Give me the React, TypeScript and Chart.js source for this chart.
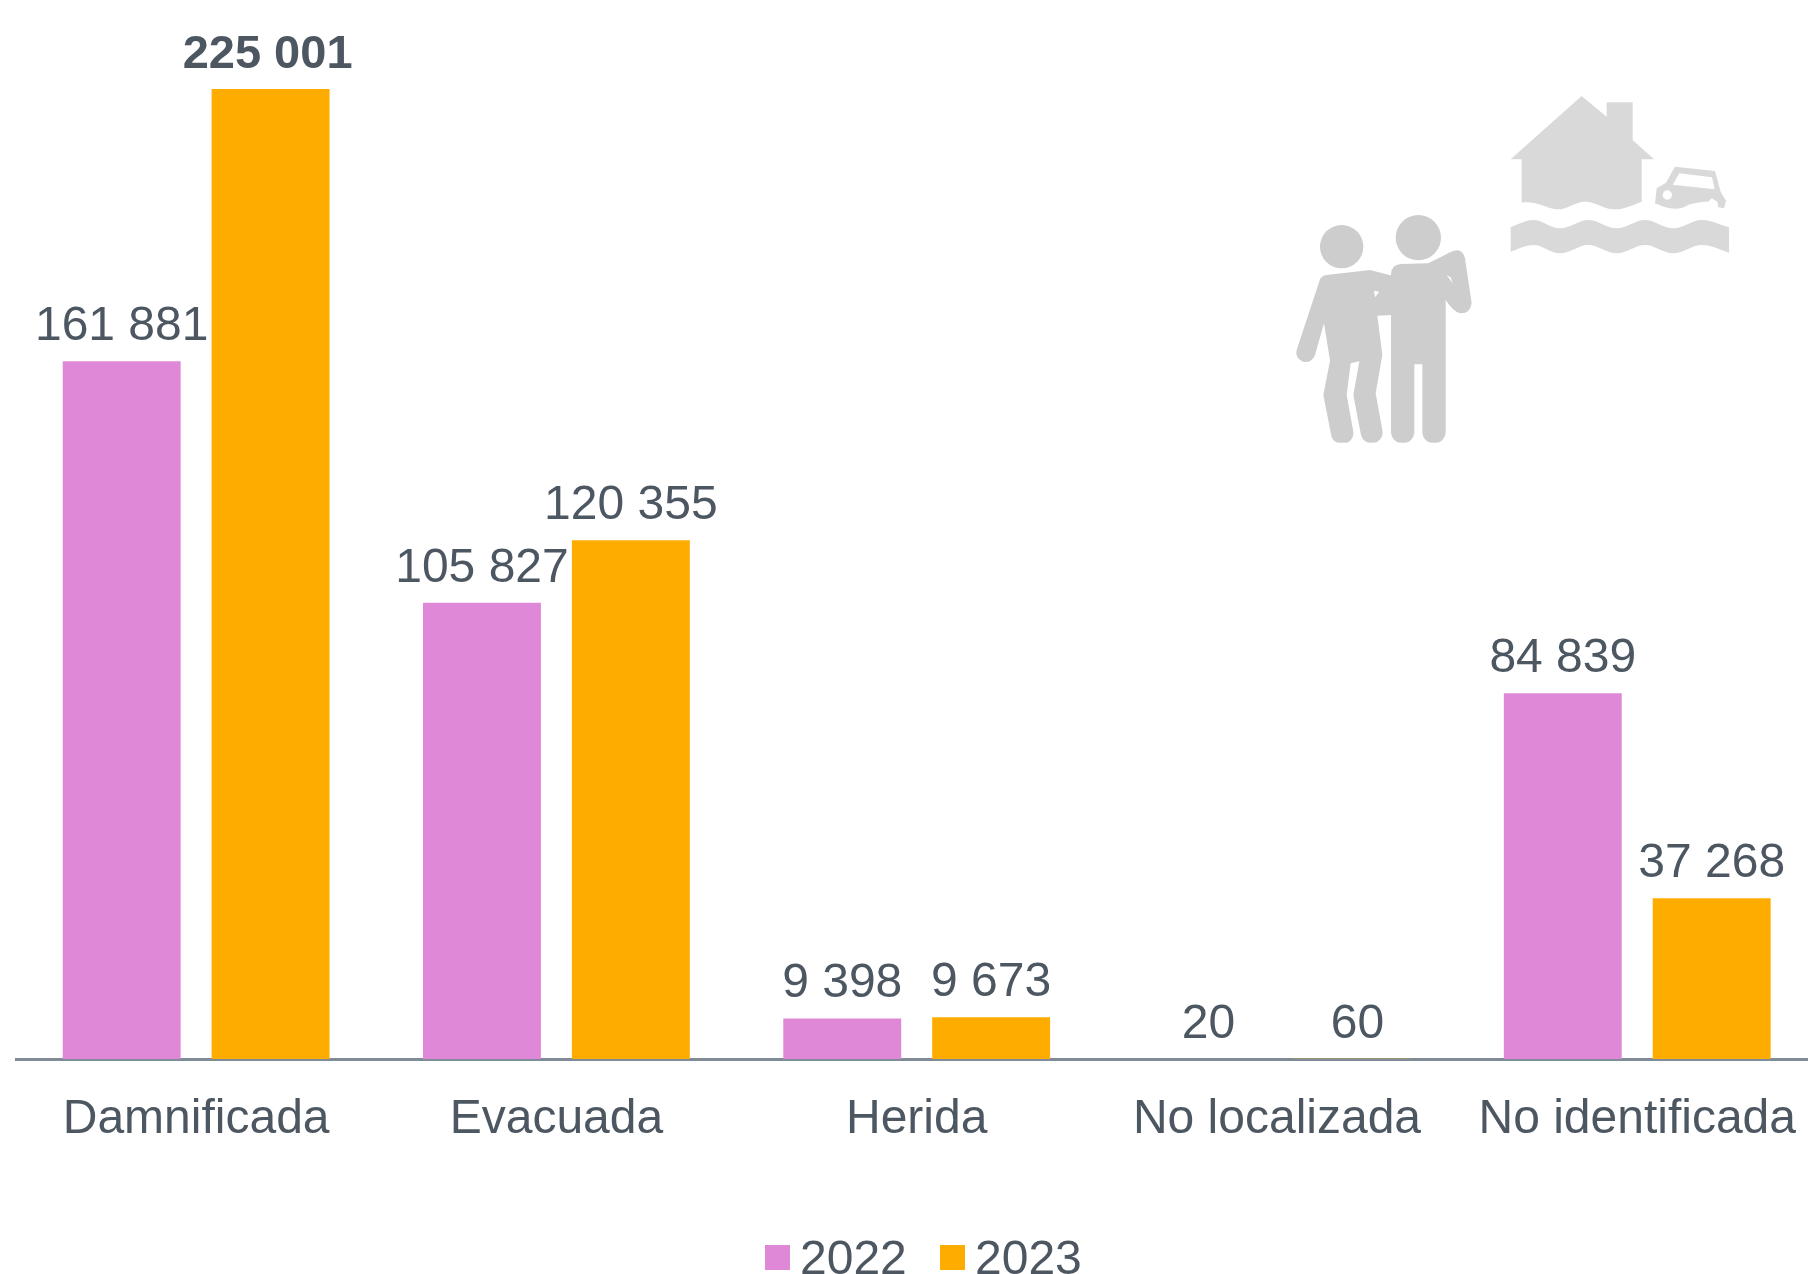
import React, { useEffect, useRef } from "react";
import { Chart, registerables } from "chart.js";

Chart.register(...registerables);

const categories = ["Damnificada", "Evacuada", "Herida", "No localizada", "No identificada"];
const values2022 = [161881, 105827, 9398, 20, 84839];
const values2023 = [225001, 120355, 9673, 60, 37268];
const boldLabels = ["2023:225001"];

const TEXT = "#4D5761";
const FONT = "'Liberation Sans', Arial, sans-serif";
const fmt = (v: number) => String(v).replace(/\B(?=(\d{3})+(?!\d))/g, " ");

const valueLabels = {
  id: "valueLabels",
  afterDatasetsDraw(chart: any) {
    const { ctx } = chart;
    ctx.save();
    ctx.textAlign = "center";
    ctx.textBaseline = "alphabetic";
    ctx.fillStyle = TEXT;
    chart.data.datasets.forEach((ds: any, i: number) => {
      chart.getDatasetMeta(i).data.forEach((bar: any, j: number) => {
        const v = ds.data[j];
        const bold = boldLabels.includes(`${ds.label}:${v}`);
        ctx.font = bold ? `bold 47px ${FONT}` : `48px ${FONT}`;
        const dx = bold ? -3 : v < 100 ? 6 : 0;
        ctx.fillText(fmt(v), bar.x + dx, bar.y - 21);
      });
    });
    ctx.restore();
  },
};

const legendItems = {
  id: "legendItems",
  afterDraw(chart: any) {
    const { ctx } = chart;
    const starts = [765, 940];
    ctx.save();
    ctx.textBaseline = "alphabetic";
    ctx.textAlign = "left";
    ctx.font = `48px ${FONT}`;
    chart.data.datasets.forEach((ds: any, i: number) => {
      ctx.fillStyle = ds.backgroundColor;
      ctx.fillRect(starts[i], 1245, 25, 25);
      ctx.fillStyle = TEXT;
      ctx.fillText(ds.label, starts[i] + 35, 1274);
    });
    ctx.restore();
  },
};

function Icons() {
  return (
    <svg
      viewBox="0 0 1500 1200"
      width={500}
      height={400}
      style={{ position: "absolute", left: 1260, top: 70 }}
    >
      <g fill="#D9D9D9">
        <path d="M965 78 L1040 140 L1040 97 L1118 97 L1118 210 L1182 268 L1145 268 L1145 395 C1105 410 1085 420 1060 418 C1030 416 1005 395 975 395 C945 395 920 420 890 418 C860 416 830 392 785 398 L785 268 L752 268 Z" />
        <path d="M752 472 C780 460 800 450 820 450 C850 450 870 475 900 475 C930 475 955 450 985 450 C1015 450 1040 475 1070 475 C1100 475 1125 450 1155 450 C1185 450 1210 475 1240 475 C1270 475 1295 450 1325 450 C1355 450 1380 465 1407 472 L1407 548 C1380 540 1355 525 1325 525 C1295 525 1270 550 1240 550 C1210 550 1185 525 1155 525 C1125 525 1100 550 1070 550 C1040 550 1015 525 985 525 C955 525 930 550 900 550 C870 550 850 525 820 525 C800 525 780 535 752 545 Z" />
        <path
          fillRule="evenodd"
          d="M1245 290 L1365 303 L1382 365 L1398 392 L1392 415 L1375 412 L1372 395 L1355 385 L1345 395 C1320 395 1290 400 1275 410 C1255 420 1220 418 1185 400 L1190 355 L1218 338 Z M1258 310 L1356 322 L1364 358 L1238 344 Z M1236 375 A14 14 0 1 0 1208 375 A14 14 0 1 0 1236 375 Z"
        />
      </g>
      <g fill="#CDCDCD" stroke="none">
        <circle cx="245" cy="530" r="65" />
        <circle cx="475" cy="503" r="68" />
        <path
          fillRule="evenodd"
          d="M180 628 Q185 617 200 615 L330 600 L400 618 L400 735 L352 737 L367 855 L347 970 L368 1085 A33 33 0 0 1 303 1095 L280 975 L298 874 L272 880 L260 975 L280 1085 A33 33 0 0 1 213 1092 L190 975 L210 872 L192 760 L165 855 A28 28 0 0 1 110 840 Z M342 662 L358 665 L345 682 Z"
        />
        <path
          fillRule="evenodd"
          d="M393 612 Q395 582 425 582 L505 580 L565 550 Q605 525 615 565 L635 700 Q630 732 600 730 Q580 725 557 690 L557 1085 A35 35 0 0 1 487 1085 L487 883 L463 883 L463 1085 A35 35 0 0 1 393 1085 Z M560 615 L572 622 L578 640 Z"
        />
      </g>
      <rect x="0" y="1118" width="1500" height="82" fill="#FFFFFF" />
    </svg>
  );
}

export default function App() {
  const ref = useRef<HTMLCanvasElement>(null);
  useEffect(() => {
    document.body.style.margin = "0";
    const chart = new Chart(ref.current!, {
      type: "bar",
      data: {
        labels: categories,
        datasets: [
          { label: "2022", data: values2022, backgroundColor: "#E088D8" },
          { label: "2023", data: values2023, backgroundColor: "#FFAC00" },
        ],
      },
      options: {
        animation: false,
        responsive: false,
        layout: { padding: { left: 16, right: 0, top: 2, bottom: 0 } },
        datasets: { bar: { categoryPercentage: 0.8266, barPercentage: 0.792 } },
        plugins: { legend: { display: false }, tooltip: { enabled: false } },
        scales: {
          x: {
            afterFit: (s: any) => {
              s.height = 215;
            },
            grid: { display: false },
            border: { display: true, color: "#7F8C97", width: 3 },
            ticks: {
              color: TEXT,
              padding: 24,
              maxRotation: 0,
              autoSkip: false,
              font: { family: FONT, size: 48 },
            },
          },
          y: { display: false, min: 0, max: 245200 },
        },
      } as any,
      plugins: [valueLabels, legendItems],
    });
    return () => chart.destroy();
  }, []);
  return (
    <div style={{ position: "relative", width: 1808, height: 1274, overflow: "hidden", background: "#fff" }}>
      <canvas ref={ref} width={1820} height={1274} style={{ position: "absolute", left: 0, top: 0 }} />
      <Icons />
    </div>
  );
}
